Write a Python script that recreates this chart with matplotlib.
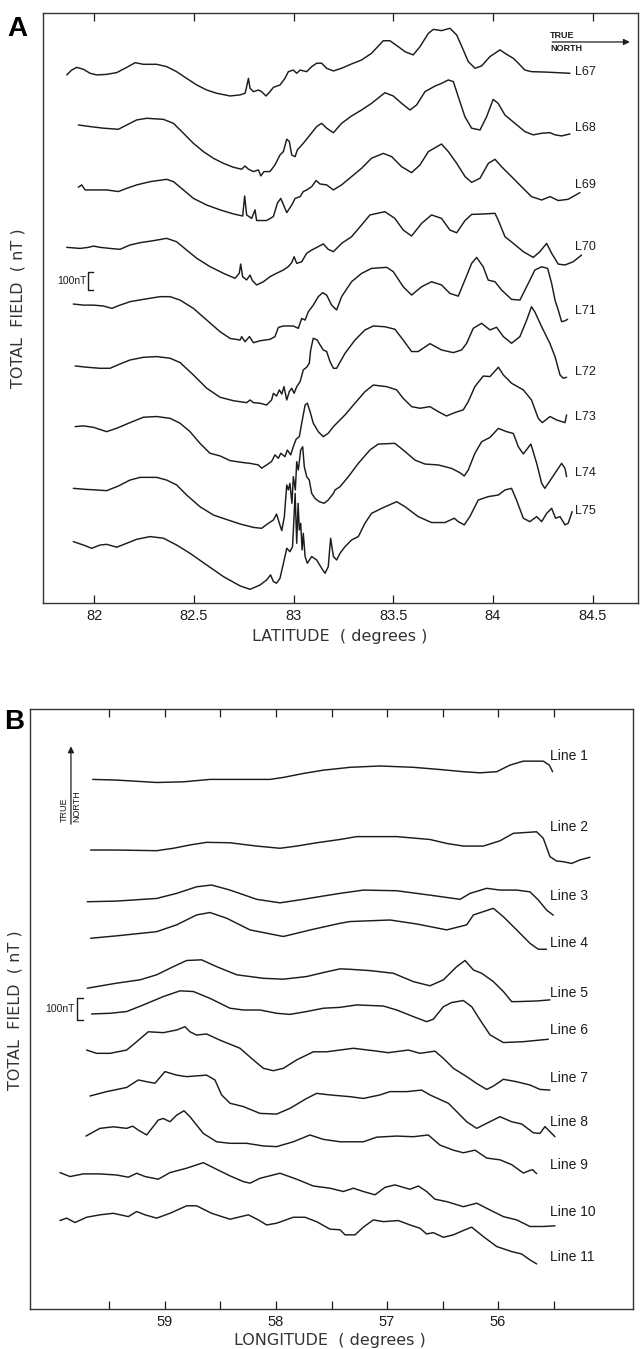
import matplotlib
matplotlib.use('Agg')
import matplotlib.pyplot as plt

plt.rcParams['font.family'] = ['Liberation Sans', 'DejaVu Sans']

# ---------------- Panel A: latitude profiles (lat, nT anomaly) ----------------
L67 = [(81.863,-9),(81.888,18),(81.913,33),(81.947,22),(81.980,0),(82.013,-9),(82.063,-6),(82.114,4),(82.164,33),(82.206,59),(82.247,50),(82.314,50),(82.364,37),(82.414,9),(82.464,-28),(82.515,-65),(82.565,-93),(82.615,-111),(82.682,-126),(82.732,-120),(82.757,-111),(82.765,-74),(82.774,-28),(82.782,-83),(82.799,-102),(82.824,-93),(82.840,-102),(82.862,-126),(82.882,-102),(82.899,-78),(82.932,-65),(82.957,-28),(82.974,9),(82.999,18),(83.016,0),(83.033,18),(83.066,9),(83.091,37),(83.116,56),(83.141,56),(83.166,28),(83.200,13),(83.241,28),(83.291,52),(83.341,74),(83.391,111),(83.450,181),(83.483,181),(83.525,148),(83.559,120),(83.600,102),(83.634,148),(83.676,222),(83.701,244),(83.742,237),(83.784,250),(83.818,213),(83.851,130),(83.876,65),(83.910,28),(83.943,41),(83.985,93),(84.035,130),(84.060,111),(84.102,83),(84.127,56),(84.160,18),(84.193,9),(84.260,7),(84.386,0)]
L68 = [(81.921,0),(81.980,-9),(82.047,-18),(82.122,-24),(82.164,0),(82.214,28),(82.264,37),(82.348,31),(82.398,9),(82.448,-46),(82.498,-102),(82.548,-148),(82.598,-185),(82.648,-213),(82.698,-235),(82.740,-246),(82.757,-228),(82.774,-246),(82.799,-259),(82.824,-250),(82.836,-283),(82.852,-259),(82.882,-259),(82.907,-222),(82.932,-167),(82.949,-148),(82.966,-79),(82.979,-92),(82.991,-167),(83.008,-176),(83.019,-139),(83.049,-102),(83.083,-55),(83.116,-9),(83.141,9),(83.166,-18),(83.200,-43),(83.241,9),(83.291,50),(83.341,83),(83.391,120),(83.458,179),(83.500,161),(83.542,120),(83.584,83),(83.617,111),(83.659,185),(83.709,216),(83.742,231),(83.776,250),(83.801,241),(83.826,157),(83.859,46),(83.893,-18),(83.935,-28),(83.968,46),(84.001,142),(84.026,120),(84.060,55),(84.110,9),(84.160,-37),(84.202,-55),(84.244,-46),(84.286,-43),(84.311,-55),(84.344,-61),(84.386,-50)]
L69 = [(81.921,6),(81.938,19),(81.955,-9),(81.997,-9),(82.063,-9),(82.122,-18),(82.164,0),(82.214,19),(82.281,37),(82.364,50),(82.398,37),(82.448,-9),(82.498,-56),(82.565,-93),(82.632,-120),(82.698,-142),(82.745,-154),(82.755,-43),(82.765,-148),(82.790,-167),(82.807,-120),(82.815,-179),(82.865,-179),(82.899,-157),(82.919,-83),(82.936,-56),(82.966,-135),(82.991,-93),(83.008,-56),(83.033,-46),(83.049,-18),(83.066,-9),(83.091,9),(83.113,43),(83.133,24),(83.166,19),(83.200,-9),(83.241,19),(83.291,65),(83.341,111),(83.391,167),(83.450,194),(83.492,176),(83.542,120),(83.592,87),(83.634,130),(83.676,204),(83.742,246),(83.776,204),(83.818,139),(83.860,65),(83.893,33),(83.935,56),(83.977,139),(84.010,161),(84.043,120),(84.093,65),(84.143,9),(84.193,-46),(84.244,-65),(84.286,-46),(84.327,-68),(84.377,-61),(84.436,-24)]
L70 = [(81.863,0),(81.930,-6),(81.972,0),(81.997,7),(82.030,0),(82.080,-6),(82.130,-11),(82.180,13),(82.231,26),(82.297,37),(82.364,50),(82.414,31),(82.464,-15),(82.515,-61),(82.581,-107),(82.648,-144),(82.707,-172),(82.728,-144),(82.735,-93),(82.745,-163),(82.765,-181),(82.782,-154),(82.794,-185),(82.815,-209),(82.849,-191),(82.882,-163),(82.915,-144),(82.949,-126),(82.974,-107),(82.991,-85),(83.003,-52),(83.016,-89),(83.041,-80),(83.066,-33),(83.091,-15),(83.124,4),(83.149,19),(83.174,-11),(83.200,-24),(83.241,22),(83.291,59),(83.341,124),(83.383,180),(83.458,198),(83.508,161),(83.550,96),(83.592,63),(83.642,133),(83.692,180),(83.742,161),(83.784,96),(83.818,81),(83.859,148),(83.893,183),(83.943,185),(84.010,189),(84.026,152),(84.060,59),(84.102,22),(84.152,-24),(84.202,-56),(84.235,-24),(84.269,22),(84.294,-33),(84.327,-93),(84.361,-98),(84.402,-80),(84.444,-43)]
L71 = [(81.896,0),(81.947,-6),(81.997,-6),(82.047,-11),(82.089,-24),(82.130,-6),(82.180,13),(82.247,26),(82.331,41),(82.381,41),(82.431,22),(82.498,-24),(82.565,-89),(82.632,-154),(82.682,-191),(82.732,-200),(82.740,-181),(82.757,-209),(82.779,-181),(82.799,-215),(82.832,-204),(82.882,-196),(82.907,-181),(82.924,-130),(82.949,-122),(82.999,-122),(83.024,-135),(83.041,-80),(83.058,-89),(83.074,-43),(83.099,-6),(83.124,41),(83.146,63),(83.166,50),(83.191,-6),(83.216,-33),(83.241,41),(83.291,124),(83.341,170),(83.391,198),(83.467,204),(83.500,180),(83.550,96),(83.592,50),(83.642,96),(83.692,124),(83.742,106),(83.784,59),(83.826,44),(83.859,133),(83.893,226),(83.918,259),(83.951,207),(83.976,133),(84.010,124),(84.043,78),(84.093,26),(84.135,22),(84.177,115),(84.210,189),(84.244,207),(84.274,198),(84.294,115),(84.311,22),(84.327,-33),(84.344,-98),(84.361,-93),(84.374,-85)]
L72 = [(81.905,0),(81.963,-7),(82.030,-13),(82.080,-13),(82.130,11),(82.180,33),(82.247,48),(82.314,52),(82.381,43),(82.431,19),(82.498,-50),(82.565,-124),(82.632,-174),(82.698,-193),(82.765,-204),(82.782,-189),(82.799,-204),(82.832,-207),(82.865,-217),(82.890,-189),(82.899,-152),(82.915,-167),(82.929,-133),(82.941,-156),(82.952,-115),(82.966,-189),(82.979,-142),(82.991,-124),(83.003,-152),(83.016,-115),(83.033,-87),(83.049,-22),(83.066,-7),(83.079,15),(83.086,89),(83.099,154),(83.119,144),(83.133,117),(83.149,89),(83.166,80),(83.183,24),(83.200,-13),(83.216,-13),(83.258,70),(83.308,144),(83.358,200),(83.400,222),(83.458,218),(83.508,204),(83.550,144),(83.592,80),(83.625,80),(83.684,124),(83.742,89),(83.801,74),(83.843,89),(83.868,126),(83.901,209),(83.943,237),(83.985,200),(84.018,215),(84.052,163),(84.093,126),(84.135,163),(84.169,255),(84.193,329),(84.210,300),(84.244,218),(84.285,126),(84.311,52),(84.336,-50),(84.352,-68),(84.369,-63)]
L73 = [(81.905,0),(81.947,4),(81.997,-4),(82.063,-28),(82.114,-9),(82.180,22),(82.247,52),(82.314,56),(82.381,46),(82.431,19),(82.481,-28),(82.531,-93),(82.581,-148),(82.632,-163),(82.682,-189),(82.749,-200),(82.782,-204),(82.824,-213),(82.840,-231),(82.865,-213),(82.890,-194),(82.907,-157),(82.924,-176),(82.936,-148),(82.957,-167),(82.969,-130),(82.986,-157),(82.999,-111),(83.013,-70),(83.029,-56),(83.041,19),(83.058,120),(83.069,130),(83.083,83),(83.099,19),(83.124,-28),(83.149,-56),(83.174,-37),(83.200,0),(83.225,28),(83.258,65),(83.308,130),(83.358,194),(83.400,231),(83.467,222),(83.517,204),(83.550,157),(83.592,111),(83.634,102),(83.684,111),(83.726,83),(83.767,59),(83.809,78),(83.851,93),(83.876,139),(83.909,222),(83.951,281),(83.985,278),(84.027,330),(84.052,287),(84.093,241),(84.152,204),(84.193,148),(84.227,46),(84.247,22),(84.286,56),(84.319,37),(84.361,22),(84.369,65)]
L74 = [(81.896,0),(81.963,-6),(82.013,-9),(82.063,-13),(82.122,13),(82.180,46),(82.231,61),(82.314,61),(82.364,46),(82.414,19),(82.464,-37),(82.531,-102),(82.598,-148),(82.648,-167),(82.732,-198),(82.799,-217),(82.840,-222),(82.874,-194),(82.899,-176),(82.915,-143),(82.929,-194),(82.941,-235),(82.954,-157),(82.966,19),(82.974,-9),(82.982,28),(82.992,-83),(82.999,65),(83.009,-9),(83.016,148),(83.024,102),(83.036,213),(83.046,231),(83.054,120),(83.066,65),(83.079,46),(83.091,-28),(83.108,-56),(83.129,-74),(83.153,-83),(83.174,-65),(83.200,-28),(83.208,-9),(83.233,9),(83.275,65),(83.325,139),(83.383,213),(83.425,246),(83.508,250),(83.550,213),(83.609,157),(83.659,135),(83.726,130),(83.792,111),(83.834,87),(83.856,69),(83.876,102),(83.909,194),(83.943,259),(83.985,283),(84.027,333),(84.068,315),(84.102,305),(84.127,231),(84.152,191),(84.190,246),(84.219,139),(84.244,28),(84.260,0),(84.294,56),(84.344,139),(84.361,111),(84.369,65)]
L75 = [(81.896,0),(81.947,-19),(81.988,-37),(82.030,-19),(82.063,-15),(82.114,-31),(82.164,-9),(82.214,13),(82.281,28),(82.348,19),(82.414,-19),(82.481,-65),(82.565,-130),(82.648,-194),(82.732,-246),(82.782,-265),(82.832,-241),(82.865,-213),(82.885,-185),(82.899,-222),(82.915,-231),(82.932,-204),(82.957,-83),(82.966,-37),(82.982,-56),(82.995,-28),(83.001,102),(83.008,268),(83.016,-9),(83.023,213),(83.029,65),(83.036,102),(83.043,-46),(83.049,46),(83.058,-83),(83.069,-120),(83.091,-83),(83.116,-102),(83.141,-148),(83.158,-176),(83.174,-139),(83.186,19),(83.200,-83),(83.216,-102),(83.233,-65),(83.258,-28),(83.291,9),(83.325,28),(83.358,102),(83.391,157),(83.442,185),(83.517,222),(83.559,194),(83.625,139),(83.692,106),(83.759,106),(83.806,130),(83.826,111),(83.856,93),(83.884,139),(83.926,231),(83.976,250),(84.027,259),(84.060,287),(84.093,296),(84.118,231),(84.152,130),(84.185,111),(84.219,139),(84.244,111),(84.269,157),(84.294,185),(84.314,130),(84.336,139),(84.361,93),(84.377,102),(84.397,167)]

A_lines = [L67, L68, L69, L70, L71, L72, L73, L74, L75]
A_names = ['L67', 'L68', 'L69', 'L70', 'L71', 'L72', 'L73', 'L74', 'L75']
A_offsets = [2943, 2656, 2304, 1976, 1661, 1317, 980, 637, 341]
A_label_y = [2950, 2639, 2322, 1978, 1622, 1283, 1033, 722, 511]
A_ticks = [82, 82.5, 83, 83.5, 84, 84.5]
A_ticklabels = ['82', '82.5', '83', '83.5', '84', '84.5']

# ---------------- Panel B: longitude profiles (lon, nT anomaly) ----------------
Line1 = [(59.652,0),(59.435,-3),(59.075,-14),(58.835,-11),(58.595,0),(58.054,0),(57.934,9),(57.754,27),(57.574,42),(57.423,50),(57.333,55),(57.063,61),(56.763,55),(56.523,45),(56.312,35),(56.162,30),(56.012,35),(55.892,65),(55.772,83),(55.592,83),(55.538,65),(55.508,35)]
Line2 = [(59.670,0),(59.435,0),(59.075,-3),(58.925,8),(58.775,23),(58.625,35),(58.414,33),(58.174,18),(57.964,8),(57.814,18),(57.634,33),(57.423,48),(57.273,61),(56.913,61),(56.613,48),(56.462,30),(56.312,18),(56.132,18),(55.982,42),(55.862,76),(55.772,79),(55.652,83),(55.592,53),(55.532,-30),(55.472,-50),(55.412,-53),(55.337,-61),(55.262,-45),(55.172,-33)]
Line3 = [(59.700,0),(59.435,3),(59.075,15),(58.895,38),(58.715,68),(58.580,76),(58.414,53),(58.174,11),(57.964,-5),(57.754,11),(57.574,26),(57.423,38),(57.213,53),(56.913,50),(56.613,30),(56.342,11),(56.252,38),(56.102,61),(55.982,53),(55.832,53),(55.712,45),(55.637,8),(55.562,-38),(55.502,-61)]
Line4 = [(59.670,0),(59.435,11),(59.075,30),(58.895,61),(58.715,106),(58.595,117),(58.444,91),(58.234,38),(57.934,8),(57.664,41),(57.423,68),(57.333,76),(56.973,83),(56.733,65),(56.462,38),(56.282,61),(56.222,106),(56.132,121),(56.042,136),(55.952,98),(55.832,38),(55.712,-23),(55.637,-50),(55.562,-50)]
Line5 = [(59.700,0),(59.435,23),(59.225,38),(59.075,61),(58.925,98),(58.805,126),(58.670,129),(58.535,98),(58.354,61),(58.114,45),(57.934,41),(57.724,53),(57.574,71),(57.423,88),(57.333,86),(57.153,80),(56.943,68),(56.763,30),(56.613,11),(56.492,38),(56.372,98),(56.297,126),(56.222,83),(56.147,68),(56.042,30),(55.952,-15),(55.877,-61),(55.832,-61),(55.652,-58),(55.532,-53)]
Line6 = [(59.661,0),(59.495,3),(59.345,11),(59.195,41),(59.015,79),(58.865,105),(58.745,102),(58.595,71),(58.414,26),(58.294,18),(58.144,18),(57.994,3),(57.874,-2),(57.724,11),(57.574,26),(57.423,30),(57.273,41),(57.033,36),(56.913,18),(56.763,-12),(56.643,-35),(56.583,-24),(56.492,33),(56.417,52),(56.312,61),(56.237,33),(56.162,-27),(56.072,-95),(55.952,-130),(55.772,-126),(55.547,-115)]
Line7 = [(59.706,0),(59.616,-15),(59.495,-15),(59.345,0),(59.255,38),(59.150,83),(59.015,79),(58.895,91),(58.820,106),(58.775,83),(58.715,68),(58.625,73),(58.505,45),(58.324,8),(58.204,-45),(58.114,-83),(58.024,-94),(57.934,-83),(57.814,-45),(57.664,-8),(57.544,-8),(57.423,0),(57.303,8),(57.123,-3),(56.988,-12),(56.808,0),(56.703,-15),(56.568,-5),(56.492,-38),(56.402,-83),(56.282,-121),(56.192,-152),(56.102,-179),(56.042,-164),(55.952,-133),(55.832,-144),(55.712,-159),(55.622,-179),(55.532,-182)]
Line8 = [(59.676,0),(59.526,20),(59.345,39),(59.240,73),(59.165,65),(59.090,58),(59.000,111),(58.895,95),(58.805,88),(58.625,95),(58.550,73),(58.490,5),(58.414,-33),(58.294,-48),(58.144,-79),(57.994,-82),(57.874,-56),(57.724,-11),(57.634,12),(57.514,5),(57.333,-3),(57.213,-11),(57.063,5),(56.973,20),(56.823,20),(56.688,27),(56.613,5),(56.447,-33),(56.372,-71),(56.282,-117),(56.192,-147),(56.102,-124),(55.982,-94),(55.877,-117),(55.787,-127),(55.682,-167),(55.622,-170),(55.577,-139),(55.532,-162),(55.487,-185)]
Line9 = [(59.712,0),(59.586,35),(59.465,42),(59.345,35),(59.291,45),(59.240,27),(59.165,5),(59.060,73),(59.015,80),(58.955,65),(58.895,95),(58.829,115),(58.775,88),(58.655,12),(58.535,-26),(58.414,-33),(58.264,-33),(58.114,-45),(57.994,-48),(57.844,-26),(57.694,5),(57.574,-15),(57.423,-26),(57.333,-26),(57.213,-26),(57.093,-5),(56.913,0),(56.763,-3),(56.628,5),(56.523,-41),(56.402,-64),(56.312,-76),(56.207,-64),(56.102,-100),(55.982,-108),(55.877,-130),(55.772,-168),(55.712,-156),(55.688,-153),(55.652,-171)]
Line10 = [(59.946,3),(59.856,-15),(59.736,-3),(59.586,-3),(59.435,-8),(59.330,-18),(59.255,0),(59.180,-15),(59.060,-27),(58.955,3),(58.805,23),(58.655,48),(58.535,18),(58.414,-12),(58.294,-38),(58.234,-45),(58.144,-23),(57.964,0),(57.814,-27),(57.664,-58),(57.514,-68),(57.393,-83),(57.303,-68),(57.213,-83),(57.108,-98),(57.018,-64),(56.928,-53),(56.793,-73),(56.718,-58),(56.643,-83),(56.568,-118),(56.462,-129),(56.312,-152),(56.192,-136),(56.072,-167),(55.952,-197),(55.832,-212),(55.712,-242),(55.592,-242),(55.487,-239)]
Line11 = [(59.946,-3),(59.886,8),(59.811,-12),(59.706,12),(59.586,23),(59.465,30),(59.330,15),(59.255,38),(59.180,23),(59.075,8),(58.955,30),(58.805,64),(58.715,64),(58.580,30),(58.414,3),(58.249,23),(58.159,0),(58.084,-23),(57.994,-15),(57.844,12),(57.739,12),(57.634,-8),(57.514,-42),(57.423,-45),(57.378,-68),(57.288,-68),(57.213,-33),(57.123,0),(57.033,-8),(56.898,-3),(56.793,-23),(56.703,-38),(56.643,-64),(56.583,-58),(56.492,-79),(56.402,-68),(56.312,-48),(56.237,-33),(56.132,-76),(56.012,-121),(55.877,-144),(55.787,-155),(55.712,-182),(55.652,-200)]

B_lines = [Line1, Line2, Line3, Line4, Line5, Line6, Line7, Line8, Line9, Line10, Line11]
B_names = ['Line 1', 'Line 2', 'Line 3', 'Line 4', 'Line 5', 'Line 6', 'Line 7', 'Line 8', 'Line 9', 'Line 10', 'Line 11']
B_offsets = [2407, 2086, 1851, 1685, 1458, 1341, 1177, 968, 786, 617, 405]
B_label_y = [2513, 2191, 1877, 1663, 1436, 1268, 1050, 850, 654, 441, 236]
B_ticks = [59.5, 59, 58.5, 58, 57.5, 57, 56.5, 56, 55.5]
B_ticklabels = ['', '59', '', '58', '', '57', '', '56', '']

SCALE_NT = 100
INK = '#1c1c1c'
LABEL_FONT = ['DejaVu Sans']

W, H = 641, 1349
fig = plt.figure(figsize=(W / 100, H / 100), dpi=100)
fig.patch.set_facecolor('white')


def add_ax(x0, y0, x1, y1):
    return fig.add_axes([x0 / W, 1 - y1 / H, (x1 - x0) / W, (y1 - y0) / H])


def style(ax, ticks, labels):
    ax.set_yticks([])
    ax.set_xticks(ticks)
    ax.set_xticklabels(labels)
    ax.tick_params(axis='x', direction='in', top=True, bottom=True,
                   length=6, width=0.9, labelsize=10.5, pad=4, colors=INK)
    for s in ax.spines.values():
        s.set_linewidth(1.0)
        s.set_color('#333333')


def draw(ax, pts, off):
    xs = [p[0] for p in pts]
    ys = [p[1] + off for p in pts]
    ax.plot(xs, ys, color=INK, lw=1.05, solid_joinstyle='round', solid_capstyle='round')


# ---------------- Panel A ----------------
axA = add_ax(43, 13, 638, 603)
axA.set_xlim(81.744, 84.727)
axA.set_ylim(0, 3278)
style(axA, A_ticks, A_ticklabels)
for pts, off, name, ly in zip(A_lines, A_offsets, A_names, A_label_y):
    draw(axA, pts, off)
    axA.text(84.412, ly, name, fontsize=9, color=INK, ha='left', va='center')

# scale bar A
yc = 1789
axA.plot([81.995, 81.972, 81.972, 81.995], [yc - SCALE_NT / 2, yc - SCALE_NT / 2, yc + SCALE_NT / 2, yc + SCALE_NT / 2],
         color=INK, lw=1.0)
axA.text(81.962, yc, '100nT', fontsize=7.5, ha='right', va='center', color=INK)

# true north A
axA.annotate('', xy=(84.700, 3117), xytext=(84.283, 3117),
             arrowprops=dict(arrowstyle='-|>', color=INK, lw=0.9, mutation_scale=9))
axA.text(84.286, 3152, 'TRUE', fontsize=6.5, ha='left', va='center', color=INK, fontweight='bold')
axA.text(84.286, 3080, 'NORTH', fontsize=6.5, ha='left', va='center', color=INK, fontweight='bold')

# ---------------- Panel B ----------------
axB = add_ax(30, 709, 633, 1309)
axB.set_xlim(60.216, 54.784)
axB.set_ylim(0, 2727)
style(axB, B_ticks, B_ticklabels)
for pts, off, name, ly in zip(B_lines, B_offsets, B_names, B_label_y):
    draw(axB, pts, off)
    axB.text(55.532, ly, name, fontsize=10, color=INK, ha='left', va='center')

# scale bar B
yc = 1364
axB.plot([59.739, 59.790, 59.790, 59.739], [yc - SCALE_NT / 2, yc - SCALE_NT / 2, yc + SCALE_NT / 2, yc + SCALE_NT / 2],
         color=INK, lw=1.0)
axB.text(59.810, yc, '100nT', fontsize=7.5, ha='right', va='center', color=INK)

# true north B
axB.annotate('', xy=(59.847, 2570), xytext=(59.847, 2191),
             arrowprops=dict(arrowstyle='-|>', color=INK, lw=0.9, mutation_scale=9))
axB.text(59.905, 2268, 'TRUE', fontsize=6.5, rotation=90, ha='center', va='center', color=INK)
axB.text(59.795, 2285, 'NORTH', fontsize=6.5, rotation=90, ha='center', va='center', color=INK)

# ---------------- figure texts ----------------
fig.text(17 / W, 1 - 29 / H, 'A', fontsize=20, fontweight='bold', ha='center', va='center')
fig.text(14 / W, 1 - 722 / H, 'B', fontsize=20, fontweight='bold', ha='center', va='center')
fig.text(18 / W, 1 - 308 / H, 'TOTAL  FIELD  ( nT )', fontsize=11.5, rotation=90, ha='center', va='center',
         color='#333333', family=LABEL_FONT)
fig.text(15 / W, 1 - 1010 / H, 'TOTAL  FIELD  ( nT )', fontsize=11.5, rotation=90, ha='center', va='center',
         color='#333333', family=LABEL_FONT)
fig.text(340 / W, 1 - 636 / H, 'LATITUDE  ( degrees )', fontsize=11.5, ha='center', va='center',
         color='#333333', family=LABEL_FONT)
fig.text(330 / W, 1 - 1341 / H, 'LONGITUDE  ( degrees )', fontsize=11.5, ha='center', va='center',
         color='#333333', family=LABEL_FONT)

fig.savefig('out.png', dpi=100, facecolor='white')
